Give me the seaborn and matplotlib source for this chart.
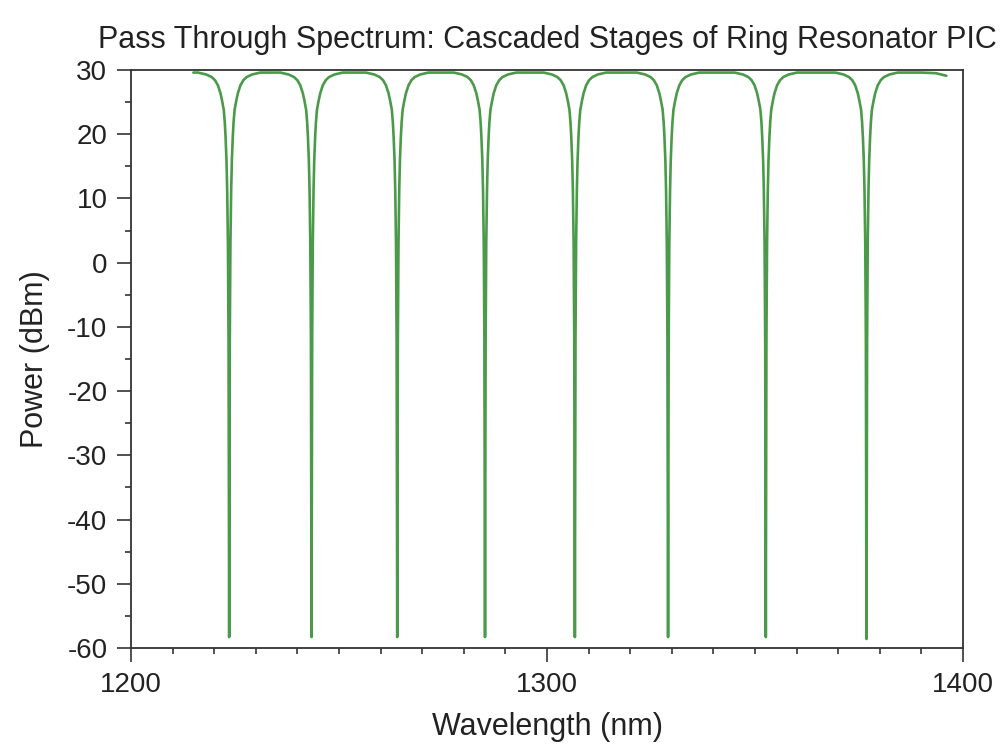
import numpy as np
import pandas as pd
import matplotlib
matplotlib.use("Agg")
import matplotlib.pyplot as plt
import seaborn as sns
from matplotlib.ticker import MultipleLocator

# ---- data ----
# resonance (notch) centres, nm
dip_centers = [1223.6, 1243.4, 1264.0, 1285.1, 1306.7, 1329.1, 1352.6, 1376.8]
# notch floor, dBm
dip_minima = [-58.3, -58.3, -58.3, -58.3, -58.3, -58.3, -58.3, -58.6]
# shape of one notch (left flank): offset from centre (nm) and power (dBm)
flank_offsets = [-7.5, -5.5, -4.2, -3.4, -2.7, -2.1, -1.7, -1.3, -1.05, -0.87, -0.65, -0.48, -0.3, -0.15]
flank_levels = [29.6, 29.3, 28.9, 28.4, 27.6, 26.4, 25.2, 23.8, 21.8, 19.6, 16.0, 11.3, 3.0, -12.0]
# trace start / end
start_wl = [1215.0]
start_lvl = [29.6]
end_wl = [1390.0, 1393.5, 1396.0]
end_lvl = [29.6, 29.5, 29.1]

title = "Pass Through Spectrum: Cascaded Stages of Ring Resonator PIC"
xlabel = "Wavelength (nm)"
ylabel = "Power (dBm)"

# ---- assemble the trace ----
wl = list(start_wl)
pw = list(start_lvl)
for c, m in zip(dip_centers, dip_minima):
    for o, l in zip(flank_offsets, flank_levels):
        wl.append(c + o)
        pw.append(l)
    wl.append(c)
    pw.append(m)
    for o, l in zip(reversed(flank_offsets), reversed(flank_levels)):
        wl.append(c - o)
        pw.append(l)
wl += end_wl
pw += end_lvl
df = pd.DataFrame({"wl": wl, "p": pw})

sns.set_style("ticks")
plt.rcParams["font.family"] = ["Liberation Sans", "DejaVu Sans"]
plt.rcParams["axes.unicode_minus"] = False

fig = plt.figure(figsize=(10.06, 7.51), dpi=100)
ax = fig.add_axes([131 / 1006, 1 - 648 / 751, (963 - 131) / 1006, (648 - 70) / 751])

sns.lineplot(data=df, x="wl", y="p", sort=False, estimator=None,
             color="#4a9a4a", lw=1.9, ax=ax)

ax.set_xlim(1200, 1400)
ax.set_ylim(-60, 30)
ax.xaxis.set_major_locator(MultipleLocator(100))
ax.xaxis.set_minor_locator(MultipleLocator(10))
ax.yaxis.set_major_locator(MultipleLocator(10))
ax.yaxis.set_minor_locator(MultipleLocator(5))
ax.tick_params(which="major", direction="out", length=10, width=1.2,
               color="#333333", labelsize=20, pad=7, labelcolor="#222222")
ax.tick_params(which="minor", direction="out", length=4, width=1.2, color="#333333")

for s in ax.spines.values():
    s.set_visible(True)
    s.set_linewidth(1.3)
    s.set_color("#333333")

ax.set_title(title, fontsize=22, pad=16, color="#222222")
ax.set_xlabel(xlabel, fontsize=22, labelpad=10, color="#222222")
ax.set_ylabel(ylabel, fontsize=22, labelpad=12, color="#222222")

fig.savefig("out.png", dpi=100)
